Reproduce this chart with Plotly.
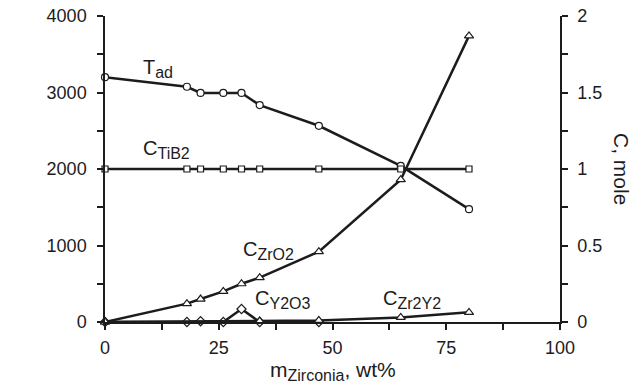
import plotly.graph_objects as go

# ---- data ----
m_zirconia = [0, 18, 21, 26, 30, 34, 47, 65, 80]
T_ad = [3200, 3075, 2995, 2995, 2995, 2835, 2565, 2040, 1475]
C_TiB2 = [1, 1, 1, 1, 1, 1, 1, 1, 1]
C_ZrO2 = [0, 0.12, 0.15, 0.20, 0.25, 0.29, 0.46, 0.93, 1.87]
x_Y2O3 = [0, 18, 21, 26, 30, 34, 47]
C_Y2O3 = [0, 0, 0.005, 0, 0.085, 0, 0]
x_Zr2Y2 = [0, 34, 47, 65, 80]
C_Zr2Y2 = [0, 0.006, 0.01, 0.03, 0.063]

x_ticks = [0, 25, 50, 75, 100]
T_ticks = [0, 1000, 2000, 3000, 4000]
C_ticks = [0, 0.5, 1, 1.5, 2]
C_tick_labels = ["0", "0.5", "1", "1.5", "2"]

FONT = "Liberation Sans, Arial, sans-serif"
INK = "#1c1c1c"
LW = 2.5

def mk(symbol, size):
    return dict(symbol=symbol, size=size, color="white",
                line=dict(color=INK, width=1.2))

fig = go.Figure()
fig.add_trace(go.Scatter(x=m_zirconia, y=C_TiB2, yaxis="y2", mode="lines+markers",
                         line=dict(color=INK, width=LW), marker=mk("square", 6),
                         cliponaxis=False))
fig.add_trace(go.Scatter(x=x_Y2O3, y=C_Y2O3, yaxis="y2", mode="lines+markers",
                         line=dict(color=INK, width=LW), marker=mk("diamond", 7),
                         cliponaxis=False))
fig.add_trace(go.Scatter(x=x_Zr2Y2, y=C_Zr2Y2, yaxis="y2", mode="lines+markers",
                         line=dict(color=INK, width=LW), marker=mk("triangle-up", 8),
                         cliponaxis=False))
fig.add_trace(go.Scatter(x=m_zirconia, y=C_ZrO2, yaxis="y2", mode="lines+markers",
                         line=dict(color=INK, width=LW), marker=mk("triangle-up", 8),
                         cliponaxis=False))
fig.add_trace(go.Scatter(x=m_zirconia, y=T_ad, yaxis="y", mode="lines+markers",
                         line=dict(color=INK, width=LW), marker=mk("circle", 7),
                         cliponaxis=False))

axis_common = dict(showgrid=False, zeroline=False, showline=True, linecolor=INK,
                   linewidth=1.5, ticks="outside", ticklen=6, tickwidth=1.5,
                   automargin=False,
                   tickcolor=INK, tickfont=dict(family=FONT, size=18, color=INK))
minor_common = dict(ticklen=6, tickwidth=1.5, tickcolor=INK, ticks="outside")

fig.update_layout(
    width=644, height=387,
    margin=dict(l=105, r=84, t=16, b=65, autoexpand=False),
    paper_bgcolor="white", plot_bgcolor="white",
    showlegend=False,
    xaxis=dict(range=[0, 100], tickvals=x_ticks, ticklabelstandoff=3,
               minor=dict(dtick=12.5, **minor_common), **axis_common),
    yaxis=dict(range=[0, 4000], tickvals=T_ticks, ticklabelstandoff=7,
               minor=dict(dtick=500, **minor_common), **axis_common),
    yaxis2=dict(range=[0, 2], tickvals=C_ticks, ticktext=C_tick_labels,
                overlaying="y", side="right", anchor="x", ticklabelstandoff=6,
                minor=dict(dtick=0.25, **minor_common), **axis_common),
)

def sub(s, px):
    return f"<sub><span style='font-size:{px}px'>{s}</span></sub>"

def label(text, x, y, xref="x", yref="y", angle=0, size=20, xanchor="left"):
    fig.add_annotation(text=text, x=x, y=y, xref=xref, yref=yref, showarrow=False,
                       textangle=angle, xanchor=xanchor, yanchor="middle",
                       font=dict(family=FONT, size=size, color=INK))

# series labels
label("T" + sub("ad", 16), 8.0, 3320)
label("C" + sub("TiB2", 16), 8.0, 2250)
label("C" + sub("ZrO2", 16), 29.8, 930)
label("C" + sub("Y2O3", 16), 32.6, 300)
label("C" + sub("Zr2Y2", 16), 60.6, 300)

# axis titles
label("T" + sub("ad", 16) + ", K", -17.5, 0.5, xref="x", yref="paper", angle=-90, size=21, xanchor="center")
label("C, mole", 1.0 + 62 / 455, 0.5, xref="paper", yref="paper", angle=90, size=21, xanchor="center")
label("m" + sub("Zirconia", 16) + ", wt%", 0.5, -0.16, xref="paper", yref="paper", size=21, xanchor="center")

fig.write_html("out.html")
